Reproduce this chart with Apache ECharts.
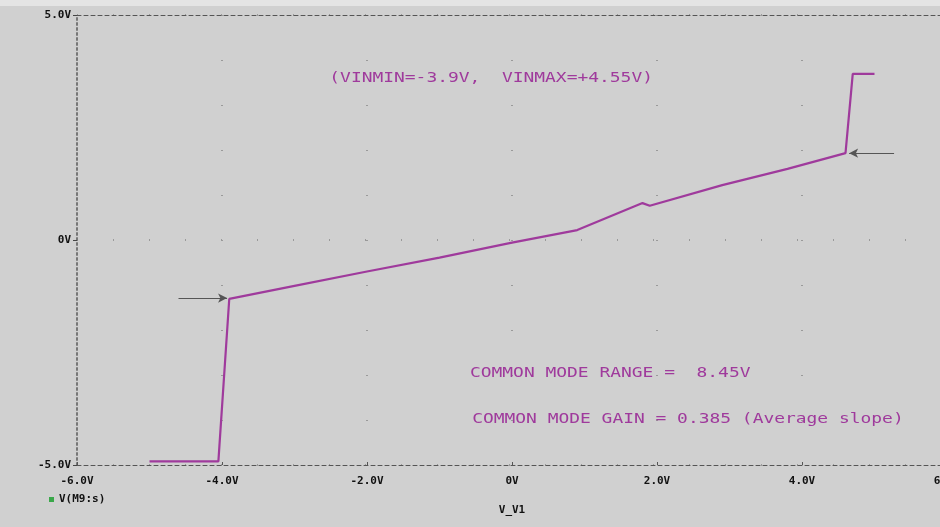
<!DOCTYPE html>
<html><head><meta charset="utf-8">
<script src="https://cdn.jsdelivr.net/npm/echarts@6/dist/echarts.min.js"></script>
<style>html,body{margin:0;padding:0;background:#d0d0d0}#c{width:940px;height:527px}</style>
</head><body><div id="c"></div>
<script>
// Data
const seriesName = 'V(M9:s)';
const vin = [-5.0, -4.05, -3.9, -3.0, -2.0, -1.0, 0.0, 0.9, 1.2, 1.8, 1.9, 2.9, 3.8, 4.6, 4.7, 5.0];
const vout = [-4.92, -4.92, -1.31, -1.02, -0.70, -0.39, -0.06, 0.22, 0.42, 0.82, 0.76, 1.22, 1.58, 1.93, 3.69, 3.69];
const xTicks = [-6, -4, -2, 0, 2, 4, 6];
const xTickLabels = ['-6.0V', '-4.0V', '-2.0V', '0V', '2.0V', '4.0V', '6.0V'];
const yTicks = [-5, 0, 5];
const yTickLabels = ['-5.0V', '0V', '5.0V'];
const arrowLeft = [[-4.6, -1.29], [-3.93, -1.29]];
const arrowRight = [[5.27, 1.93], [4.65, 1.93]];
const notes = [
  {text: '(VINMIN=-3.9V,  VINMAX=+4.55V)', at: [-2.52, 3.6]},
  {text: 'COMMON MODE RANGE =  8.45V', at: [-0.58, -2.97]},
  {text: 'COMMON MODE GAIN = 0.385 (Average slope)', at: [-0.55, -3.99]}
];

const pts = vin.map((x, i) => [x, vout[i]]);
const purple = '#9f3a9c';
const chart = echarts.init(document.getElementById('c'));
const labelFont = {color: '#111', fontFamily: 'DejaVu Sans Mono', fontWeight: 'bold', fontSize: 11};
const strip = {type: 'rect', shape: {x: 0, y: 0, width: 940, height: 6}, style: {fill: '#e4e4e4'}, silent: true};

chart.setOption({
  backgroundColor: '#d0d0d0',
  animation: false,
  grid: {left: 77, top: 15, bottom: 62, right: -7, outerBoundsMode: 'none', containLabel: false},
  legend: {
    left: 44, top: 489, icon: 'rect', itemWidth: 5, itemHeight: 5, itemGap: 6,
    data: [{name: seriesName, itemStyle: {color: '#3aa84a'}}],
    textStyle: labelFont
  },
  xAxis: [{
    type: 'value', min: -6, max: 6, interval: 2, position: 'bottom',
    name: 'V_V1', nameLocation: 'middle', nameGap: 40, nameTextStyle: labelFont,
    axisLine: {show: true, onZero: false, lineStyle: {color: '#555', width: 1, type: [4, 3]}},
    axisTick: {show: true, inside: true, length: 3, lineStyle: {color: '#555'}},
    axisLabel: {margin: 11, ...labelFont, formatter: v => xTickLabels[xTicks.indexOf(v)]},
    splitLine: {show: true, lineStyle: {color: '#9a9a9a', width: 2, type: [1, 44]}}
  }, {
    type: 'value', min: -6, max: 6, interval: 2, position: 'top',
    axisLine: {show: true, onZero: false, lineStyle: {color: '#555', width: 1, type: [4, 3]}},
    axisTick: {show: false}, axisLabel: {show: false}, splitLine: {show: false}
  }],
  yAxis: {
    type: 'value', min: -5, max: 5, interval: 5,
    axisLine: {show: true, onZero: false, lineStyle: {color: '#777', width: 2, type: [2, 3]}},
    axisTick: {show: true, length: 4, lineStyle: {color: '#444'}},
    axisLabel: {margin: 6, ...labelFont, formatter: v => yTickLabels[yTicks.indexOf(v)]},
    splitLine: {show: true, lineStyle: {color: '#9a9a9a', width: 2, type: [1, 35]}}
  },
  series: [{
    name: seriesName, type: 'line', data: pts, showSymbol: false,
    lineStyle: {color: purple, width: 2.2}, itemStyle: {color: purple},
    markLine: {
      silent: true, symbol: ['none', 'arrow'], symbolSize: [7, 9],
      lineStyle: {color: '#555', width: 1, type: 'solid'}, label: {show: false},
      data: [
        [{coord: arrowLeft[0]}, {coord: arrowLeft[1]}],
        [{coord: arrowRight[0]}, {coord: arrowRight[1]}]
      ]
    }
  }]
});

const g = notes.map(n => {
  const p = chart.convertToPixel({gridIndex: 0}, n.at);
  return {type: 'text', x: p[0], y: p[1], scaleX: 1.28, silent: true,
    style: {text: n.text, fill: purple, font: '14px "DejaVu Sans Mono"', verticalAlign: 'middle'}};
});
chart.setOption({graphic: [strip].concat(g)});
</script></body></html>
